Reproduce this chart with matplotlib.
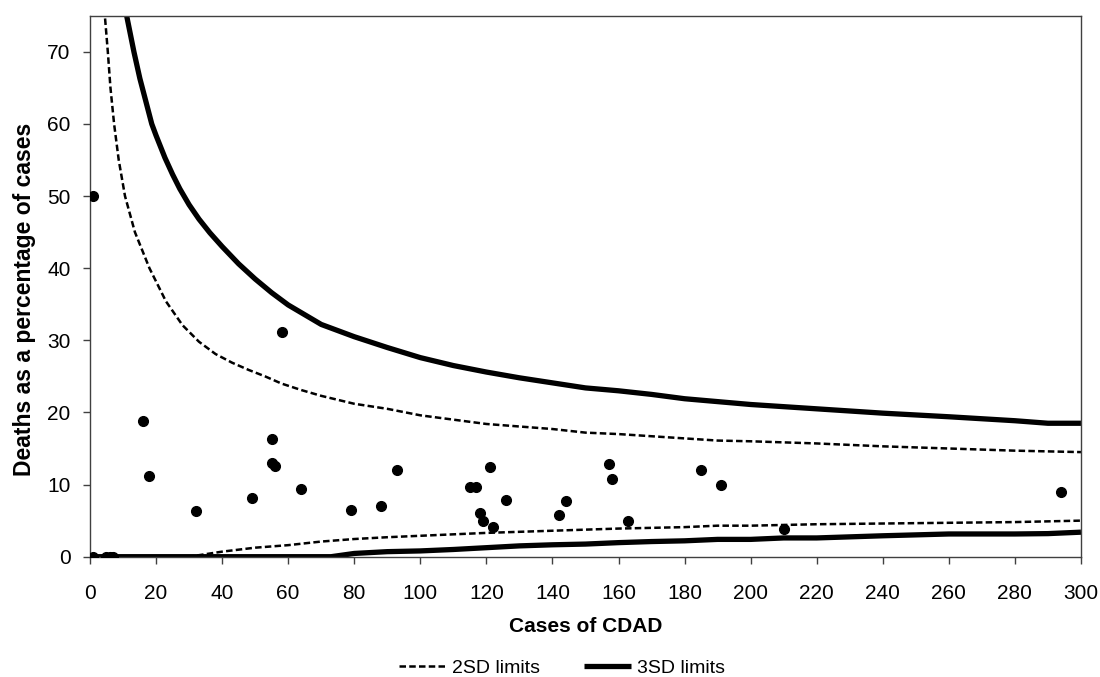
import matplotlib
matplotlib.use('Agg')
import matplotlib.pyplot as plt
from matplotlib.lines import Line2D

plt.rcParams['font.family'] = ['Liberation Sans', 'DejaVu Sans']

# hospitals: cases of CDAD and deaths as % of cases
cases = [1, 1, 5, 6, 7, 16, 18, 32, 49, 55, 55, 56, 58, 64, 79, 88, 93,
         115, 117, 118, 119, 121, 122, 126, 142, 144, 157, 158, 163, 185,
         191, 210, 294]
pct = [50.0, 0, 0, 0, 0, 18.8, 11.2, 6.3, 8.2, 16.3, 13.0, 12.6, 31.2, 9.4,
       6.5, 7.0, 12.0, 9.6, 9.6, 6.0, 5.0, 12.4, 4.1, 7.9, 5.8, 7.7, 12.9,
       10.8, 5.0, 12.0, 10.0, 3.9, 8.9]

# upper control limits
up2_x = [4, 4.5, 5.4, 6.2, 7.3, 8.7, 10.6, 13.6, 18, 23, 28, 33, 38, 43, 48,
         53, 58, 64, 70, 80, 90, 100, 110, 120, 130, 140, 150, 160, 170,
         180, 190, 200, 220, 240, 260, 280, 300]
up2_y = [82, 75, 70, 65, 60, 55, 50, 45, 40, 35.4, 32.1, 29.8, 28.1, 26.9,
         25.9, 25.0, 24.0, 23.1, 22.3, 21.2, 20.5, 19.6, 19.0, 18.4, 18.05,
         17.7, 17.2, 17.0, 16.7, 16.4, 16.1, 16.0, 15.7, 15.3, 15.0, 14.7,
         14.5]
up3_x = [10, 11.1, 13.3, 15.1, 18.7, 20, 22.7, 25, 27.2, 30, 33, 36.3, 40,
         45, 50, 55, 60, 70, 80, 90, 100, 110, 120, 130, 140, 150, 160, 170,
         180, 190, 200, 220, 240, 260, 280, 290, 300]
up3_y = [82, 75, 70, 66.3, 60, 58.4, 55.3, 53.0, 51.0, 48.8, 46.8, 44.9,
         43.0, 40.6, 38.5, 36.6, 34.9, 32.2, 30.5, 29.0, 27.6, 26.5, 25.6,
         24.8, 24.1, 23.4, 23.0, 22.5, 21.9, 21.5, 21.1, 20.5, 19.9, 19.4,
         18.85, 18.5, 18.5]

# lower control limits
lo2_x = [0, 30, 40, 50, 60, 70, 80, 90, 100, 120, 140, 160, 180, 190, 200,
         220, 240, 260, 280, 300]
lo2_y = [0, 0, 0.7, 1.25, 1.6, 2.1, 2.45, 2.7, 2.9, 3.3, 3.6, 3.9, 4.1, 4.3,
         4.3, 4.5, 4.6, 4.7, 4.8, 5.0]
lo3_x = [0, 73, 80, 90, 100, 110, 120, 130, 140, 150, 160, 170, 180, 190,
         200, 210, 220, 240, 260, 280, 290, 300]
lo3_y = [0, 0, 0.45, 0.7, 0.8, 1.0, 1.25, 1.5, 1.65, 1.75, 1.95, 2.1, 2.2,
         2.4, 2.4, 2.6, 2.6, 2.9, 3.15, 3.15, 3.2, 3.4]

fig = plt.figure(figsize=(11, 6.77), dpi=100)
ax = fig.add_axes([0.0818, 0.1777, 0.9009, 0.7991])

dash = dict(color='black', lw=1.8, dashes=(2.6, 1.3))
solid = dict(color='black', lw=3.8, solid_capstyle='butt')

ax.plot(cases, pct, 'o', color='black', ms=7, zorder=3)
ax.plot(up2_x, up2_y, **dash)
ax.plot(lo2_x, lo2_y, **dash)
ax.plot(up3_x, up3_y, **solid)
ax.plot(lo3_x, lo3_y, **solid)

ax.set_xlim(0, 300)
ax.set_ylim(0, 75)
ax.set_xticks(range(0, 301, 20))
ax.set_yticks(range(0, 71, 10))
ax.tick_params(direction='out', length=5, width=1, color='#404040',
               labelsize=15)
ax.tick_params(axis='x', pad=14.5)
ax.tick_params(axis='y', pad=9)
for s in ax.spines.values():
    s.set_color('#404040')
    s.set_linewidth(1)

ax.set_xlabel('Cases of CDAD', fontsize=15, fontweight='bold', labelpad=10)
ax.set_ylabel('Deaths as a percentage of cases', fontsize=16.5,
              fontweight='bold', labelpad=8)
ax.yaxis.label.set_y(0.475)

handles = [Line2D([0], [0], **dash), Line2D([0], [0], **solid)]
fig.legend(handles, ['2SD limits', '3SD limits'], loc='center',
           bbox_to_anchor=(0.511, 0.0133), ncol=2, frameon=False,
           fontsize=14, handlelength=2.4, columnspacing=2.3,
           handletextpad=0.3)

fig.savefig('out.png', dpi=100)
